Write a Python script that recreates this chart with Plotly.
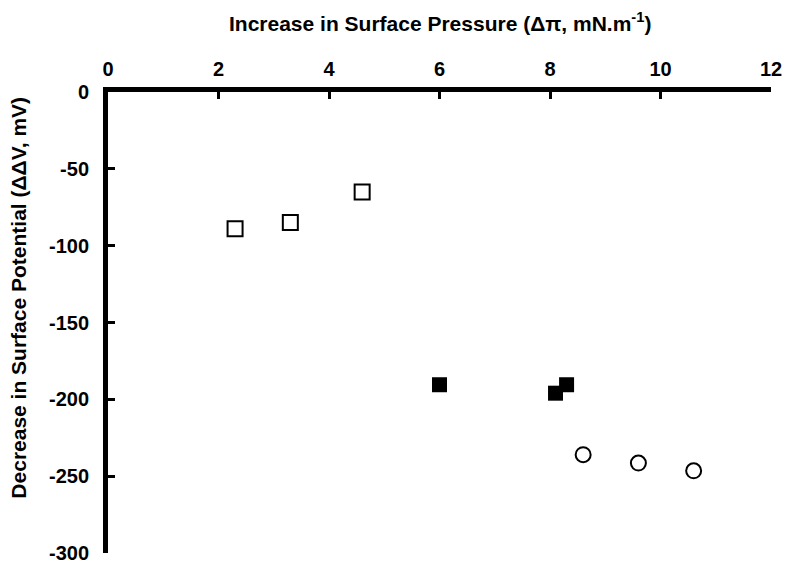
import plotly.graph_objects as go

# Data
open_sq_x = [2.3, 3.3, 4.6]
open_sq_y = [-89, -85, -65]
filled_sq_x = [6.0, 8.1, 8.3]
filled_sq_y = [-190.5, -196, -190.5]
circle_x = [8.6, 9.6, 10.6]
circle_y = [-236, -241.5, -246.5]

x_ticks = [0, 2, 4, 6, 8, 10, 12]
y_ticks = [0, -50, -100, -150, -200, -250, -300]

FONT = "Liberation Sans, Arial, sans-serif"

fig = go.Figure()
fig.add_trace(go.Scatter(x=open_sq_x, y=open_sq_y, mode="markers",
                         marker=dict(symbol="square-open", size=15, color="black",
                                     line=dict(width=2, color="black"))))
fig.add_trace(go.Scatter(x=filled_sq_x, y=filled_sq_y, mode="markers",
                         marker=dict(symbol="square", size=15, color="black",
                                     line=dict(width=0))))
fig.add_trace(go.Scatter(x=circle_x, y=circle_y, mode="markers",
                         marker=dict(symbol="circle-open", size=15, color="black",
                                     line=dict(width=2, color="black"))))

fig.update_layout(
    width=786, height=562,
    margin=dict(l=108, r=15, t=92, b=9),
    paper_bgcolor="white", plot_bgcolor="white",
    showlegend=False,
    font=dict(family=FONT, size=20, color="black"),
    xaxis=dict(side="top", range=[0, 12], tickvals=x_ticks,
               ticktext=[f"<b>{v}</b>" for v in x_ticks],
               showgrid=False, zeroline=False, showline=True,
               linecolor="black", linewidth=5, automargin=False,
               ticks="inside", ticklen=7, tickwidth=3, tickcolor="black",
               ticklabelstandoff=3, ticklabeloverflow="allow",
               tickfont=dict(family=FONT, size=20, color="black")),
    yaxis=dict(range=[-300, 0], tickvals=y_ticks,
               ticktext=[f"<b>{v}</b>" for v in y_ticks],
               showgrid=False, zeroline=False, showline=True,
               linecolor="black", linewidth=5, automargin=False,
               ticks="inside", ticklen=7, tickwidth=3, tickcolor="black",
               ticklabelstandoff=10, ticklabeloverflow="allow",
               tickfont=dict(family=FONT, size=20, color="black")),
    annotations=[
        dict(text="<b>Increase in Surface Pressure (Δπ, mN.m<sup>-1</sup>)</b>",
             xref="paper", yref="paper", x=0.5, y=1.152, showarrow=False,
             xanchor="center", yanchor="middle",
             font=dict(family=FONT, size=21, color="black")),
        dict(text="<b>Decrease in Surface Potential (ΔΔV, mV)</b>",
             xref="paper", yref="paper", x=-0.135, y=0.555, showarrow=False,
             textangle=-90, xanchor="center", yanchor="middle",
             font=dict(family=FONT, size=21, color="black")),
    ],
)

fig.write_html("out.html", config={"displayModeBar": False},
               post_script="document.body.style.margin='0';")
